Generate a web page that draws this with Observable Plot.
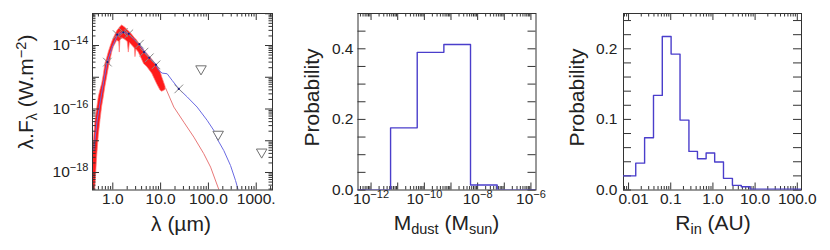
<!DOCTYPE html>
<html><head><meta charset="utf-8">
<script src="https://cdn.jsdelivr.net/npm/d3@7"></script>
<script src="https://cdn.jsdelivr.net/npm/@observablehq/plot@0.6"></script>
<style>
body{margin:0;background:#fff;}
#wrap{position:relative;width:830px;height:250px;overflow:hidden;background:#fff;}
#wrap svg{position:absolute;top:0;}
</style></head><body><div id="wrap"></div>
<script>
// ---------- Panel 1: SED ----------
const photLambda = [0.77, 1.235, 1.66, 2.16, 3.6, 4.5, 5.8, 8.0, 24];
const photFlux   = [3.0e-15, 2.2e-14, 2.6e-14, 2.33e-14, 1.1e-14, 6.2e-15, 4.1e-15, 2.46e-15, 4.3e-16];
const limLambda  = [70, 160, 1300];
const limFlux    = [1.84e-15, 1.6e-17, 4.4e-18];
const modelLambda = [0.40,0.47,0.553,0.649,0.762,0.97,1.234,1.57,2.0,2.54,3.5,4.46,5.67,7.82,9.18,10.8,13.7,17.5,24.1,36,58,94,130,152,210,290,369,433];
const modelFlux   = [4.9e-18,4.4e-17,1.9e-16,7.9e-16,3.0e-15,8.9e-15,2.07e-14,2.6e-14,2.45e-14,1.8e-14,1.1e-14,7.0e-15,4.3e-15,2.65e-15,1.63e-15,1.35e-15,1.29e-15,7.9e-16,4.3e-16,2.4e-16,1.15e-16,4.4e-17,2.1e-17,1.15e-17,4.9e-18,1.66e-18,5.6e-19,2.4e-19];
const starLambda = [12.7, 18.9, 30.6, 49.6, 80, 111, 173];
const starFlux   = [4.6e-16, 1.15e-16, 3.85e-17, 1.3e-17, 3.9e-18, 1.48e-18, 2.4e-19];
const specLambda = [0.388,0.435,0.47,0.51,0.553,0.60,0.649,0.70,0.762,0.826,0.895,0.97,1.05,1.234,1.36,1.40,1.44,1.57,1.84,2.05,2.16,2.28,2.54,2.9,2.98,3.1,3.5,4.12,4.5,5.24,6.66,8.48,9.95,10.8,12.7];
const specLow    = [1e-19,4e-19,3e-18,1.5e-17,4.4e-17,1.2e-16,2.4e-16,5e-16,1.0e-15,2.0e-15,3.4e-15,6e-15,8.9e-15,1.4e-14,1.3e-14,6e-15,1.4e-14,1.7e-14,1.5e-14,1.3e-14,6e-15,1.2e-14,1.0e-14,8e-15,4.3e-15,7.5e-15,6.0e-15,3.5e-15,2.6e-15,2.1e-15,1.3e-15,6e-16,3.8e-16,3.5e-16,4.0e-16];
const specHigh   = [4.9e-18,4.4e-17,1.0e-16,2.4e-16,4.0e-16,6.2e-16,1.2e-15,2.65e-15,4.0e-15,6.2e-15,9e-15,1.27e-14,1.7e-14,2.8e-14,3.4e-14,3.6e-14,3.8e-14,4.3e-14,3.6e-14,3.0e-14,2.8e-14,2.6e-14,2.2e-14,1.7e-14,1.6e-14,1.55e-14,1.2e-14,8.5e-15,7e-15,5.5e-15,3.6e-15,2.34e-15,1.5e-15,1.0e-15,5.0e-16];
const sedXLabels = [1, 10, 100, 1000];
const sedXText   = ["1.0", "10.0", "100.0", "1000."];
const sedYLabels = [1e-14, 1e-16, 1e-18];
const sedYText   = ["10^-14", "10^-16", "10^-18"];

// ---------- Panel 2: dust mass ----------
const mdustEdges = [1e-13, 5.4e-12, 5.4e-11, 5.4e-10, 5.4e-9, 5.4e-8, 1e-5];
const mdustProb  = [0, 0.176, 0.39, 0.412, 0.014, 0];
const mdustXLabels = [1e-12, 1e-10, 1e-8, 1e-6];
const mdustXText   = ["10^-12", "10^-10", "10^-8", "10^-6"];
const mdustYLabels = [0, 0.2, 0.4];

// ---------- Panel 3: inner radius ----------
const rinEdges = [0.005, 0.0148, 0.024, 0.039, 0.063, 0.102, 0.166, 0.27, 0.43, 0.69, 1.1, 1.78, 2.9, 4.7, 7.6, 200];
const rinProb  = [0.020, 0.038, 0.074, 0.134, 0.2175, 0.1925, 0.099, 0.0547, 0.0443, 0.0524, 0.0396, 0.0165, 0.0066, 0.0047, 0.001];
const rinXLabels = [0.01, 0.1, 1, 10, 100];
const rinXText   = ["0.01", "0.1", "1.0", "10.0", "100.0"];
const rinYLabels = [0, 0.1, 0.2];

// ---------- helpers ----------
const FONT = "'Liberation Sans', Arial, Helvetica, sans-serif";
const AX = "#333";
const HIST = "#4a3ecb";
const TICKFS = 15.5;

function logTicks(lo, hi) {
  const major = [], minor = [];
  for (let e = Math.floor(Math.log10(lo)) - 1; e <= Math.ceil(Math.log10(hi)) + 1; e++) {
    for (let m = 1; m <= 9; m++) {
      const v = m * Math.pow(10, e);
      if (v < lo * 0.9999 || v > hi * 1.0001) continue;
      (m === 1 ? major : minor).push(v);
    }
  }
  return {major, minor};
}
function linTicks(lo, hi, step) {
  const t = [];
  for (let v = lo; v <= hi + 1e-9; v += step) t.push(+v.toFixed(6));
  return t;
}
function xTickMarks(vals, len, fh) {
  return [
    Plot.ruleX(vals, {insetTop: fh - len, stroke: AX, strokeWidth: 1}),
    Plot.ruleX(vals, {insetBottom: fh - len, stroke: AX, strokeWidth: 1})
  ];
}
function yTickMarks(vals, len, fw) {
  return [
    Plot.ruleY(vals, {insetRight: fw - len, stroke: AX, strokeWidth: 1}),
    Plot.ruleY(vals, {insetLeft: fw - len, stroke: AX, strokeWidth: 1})
  ];
}
function supify(svg, axis) {
  d3.select(svg).selectAll(`g[aria-label="${axis}-axis tick label"] text`).each(function () {
    const t = d3.select(this);
    const s = t.text();
    const m = s.match(/^(10)\^(.+)$/);
    if (!m) return;
    t.text(null);
    t.append("tspan").text(m[1]);
    t.append("tspan").attr("dy", "-6").attr("font-size", "11px").text(m[2].replace("-", "\u2212"));
  });
}
function addTitle(svg, x, y, parts, rotate) {
  const t = d3.select(svg).append("text")
    .attr("transform", `translate(${x},${y})` + (rotate ? " rotate(-90)" : ""))
    .attr("text-anchor", "middle")
    .attr("font-family", FONT)
    .attr("font-size", "21px")
    .attr("fill", "#222");
  let shift = 0;
  for (const p of parts) {
    const target = p.sub ? 4 : p.sup ? -7.5 : 0;
    const ts = t.append("tspan").text(p.t).attr("dy", target - shift);
    if (p.sub || p.sup) ts.attr("font-size", "14.5px");
    shift = target;
  }
}

const wrap = document.getElementById("wrap");
const H = 250, MT = 13, MB = 60.5, FH = H - MT - MB;
const baseStyle = {fontFamily: FONT, fontSize: TICKFS + "px", background: "transparent", color: "#222", overflow: "visible"};

// ---------- Panel 1 ----------
{
  const W = 280, ML = 92, MR = 8, FW = W - ML - MR;
  const xDom = [0.376, 2190], yDom = [2.81e-19, 1.019e-13];
  const xt = logTicks(...xDom), yt = logTicks(...yDom);
  const spec = specLambda.map((l, i) => ({l, lo: specLow[i], hi: specHigh[i]}));
  const model = modelLambda.map((l, i) => ({l, f: modelFlux[i]}));
  const star = starLambda.map((l, i) => ({l, f: starFlux[i]}));
  const phot = photLambda.map((l, i) => ({l, f: photFlux[i]}));
  const lim = limLambda.map((l, i) => ({l, f: limFlux[i]}));
  const svg = Plot.plot({
    width: W, height: H, marginLeft: ML, marginRight: MR, marginTop: MT, marginBottom: MB,
    style: baseStyle,
    x: {type: "log", domain: xDom},
    y: {type: "log", domain: yDom},
    marks: [
      Plot.areaY(spec, {x: "l", y1: "lo", y2: "hi", fill: "#ff1a1a", stroke: "#ff8080", strokeWidth: 0.7, clip: true}),
      Plot.line(star, {x: "l", y: "f", stroke: "#e87878", strokeWidth: 1, clip: true}),
      Plot.line(model, {x: "l", y: "f", stroke: "#6a6ae2", strokeWidth: 1, clip: true}),
      Plot.dot(phot, {x: "l", y: "f", symbol: "times", r: 4, stroke: "#8a8a8a", strokeWidth: 1}),
      Plot.dot(phot, {x: "l", y: "f", r: 1.1, fill: "#1c1c7a"}),
      Plot.dot(lim, {x: "l", y: "f", symbol: "triangle", rotate: 180, r: 3.9, stroke: "#707070", fill: "white", strokeWidth: 1}),
      ...xTickMarks(xt.major, 7, FH), ...xTickMarks(xt.minor, 3.5, FH),
      ...yTickMarks(yt.major, 7, FW), ...yTickMarks(yt.minor, 3.5, FW),
      Plot.frame({stroke: AX, strokeWidth: 1}),
      Plot.axisX({ticks: sedXLabels, tickSize: 0, tickPadding: 3, label: null, fontSize: TICKFS,
        tickFormat: d => sedXText[sedXLabels.indexOf(d)]}),
      Plot.axisY({ticks: sedYLabels, tickSize: 0, tickPadding: 4, label: null, fontSize: TICKFS,
        tickFormat: d => sedYText[sedYLabels.indexOf(d)]})
    ]
  });
  svg.style.left = "0px";
  wrap.appendChild(svg);
  supify(svg, "y");
  addTitle(svg, 181, 231, [{t: "\u03bb (\u00b5m)"}], false);
  addTitle(svg, 33, 92, [{t: "\u03bb.F"}, {t: "\u03bb", sub: true}, {t: " (W.m"}, {t: "\u22122", sup: true}, {t: ")"}], true);
}

// ---------- Panel 2 ----------
{
  const LEFT = 280, W = 270, ML = 77.5, MR = 14.5, FW = W - ML - MR;
  const xDom = [Math.pow(10, -12.49), Math.pow(10, -5.81)], yDom = [0, 0.5];
  const xt = logTicks(...xDom);
  const hist = mdustProb.map((p, i) => ({x: mdustEdges[i], p}));
  hist.push({x: mdustEdges[mdustEdges.length - 1], p: mdustProb[mdustProb.length - 1]});
  const svg = Plot.plot({
    width: W, height: H, marginLeft: ML, marginRight: MR, marginTop: MT, marginBottom: MB,
    style: baseStyle,
    x: {type: "log", domain: xDom},
    y: {domain: yDom},
    marks: [
      ...xTickMarks(xt.major, 7, FH), ...xTickMarks(xt.minor, 3.5, FH),
      ...yTickMarks(linTicks(0, 0.5, 0.05), 8, FW),
      Plot.frame({stroke: AX, strokeWidth: 1}),
      Plot.line(hist, {x: "x", y: "p", curve: "step-after", stroke: HIST, strokeWidth: 1.4, clip: true}),
      Plot.axisX({ticks: mdustXLabels, tickSize: 0, tickPadding: 3, label: null, fontSize: TICKFS,
        tickFormat: d => mdustXText[mdustXLabels.indexOf(d)]}),
      Plot.axisY({ticks: mdustYLabels, tickSize: 0, tickPadding: 4.5, label: null, fontSize: TICKFS,
        tickFormat: d => d.toFixed(1)})
    ]
  });
  svg.style.left = LEFT + "px";
  wrap.appendChild(svg);
  supify(svg, "x");
  addTitle(svg, 166.5, 230, [{t: "M"}, {t: "dust", sub: true}, {t: " (M"}, {t: "sun", sub: true}, {t: ")"}], false);
  addTitle(svg, 39, 97.5, [{t: "Probability"}], true);
}

// ---------- Panel 3 ----------
{
  const LEFT = 550, W = 280, ML = 73, MR = 29, FW = W - ML - MR;
  const xDom = [Math.pow(10, -2.12), Math.pow(10, 2.1)], yDom = [0, 0.25];
  const xt = logTicks(...xDom);
  const hist = rinProb.map((p, i) => ({x: rinEdges[i], p}));
  hist.push({x: rinEdges[rinEdges.length - 1], p: rinProb[rinProb.length - 1]});
  const svg = Plot.plot({
    width: W, height: H, marginLeft: ML, marginRight: MR, marginTop: MT, marginBottom: MB,
    style: baseStyle,
    x: {type: "log", domain: xDom},
    y: {domain: yDom},
    marks: [
      ...xTickMarks(xt.major, 7, FH), ...xTickMarks(xt.minor, 3.5, FH),
      ...yTickMarks(linTicks(0, 0.24, 0.02), 8, FW),
      Plot.frame({stroke: AX, strokeWidth: 1}),
      Plot.line(hist, {x: "x", y: "p", curve: "step-after", stroke: HIST, strokeWidth: 1.4, clip: true}),
      Plot.axisX({ticks: rinXLabels, tickSize: 0, tickPadding: 3, label: null, fontSize: TICKFS,
        tickFormat: d => rinXText[rinXLabels.indexOf(d)]}),
      Plot.axisY({ticks: rinYLabels, tickSize: 0, tickPadding: 6, label: null, fontSize: TICKFS,
        tickFormat: d => d.toFixed(1)})
    ]
  });
  svg.style.left = LEFT + "px";
  wrap.appendChild(svg);
  d3.select(svg).selectAll('g[aria-label="x-axis tick label"] text')
    .filter(function () { return d3.select(this).text() === "0.01"; })
    .attr("dx", 5);
  addTitle(svg, 163, 230, [{t: "R"}, {t: "in", sub: true}, {t: " (AU)"}], false);
  addTitle(svg, 34, 97.5, [{t: "Probability"}], true);
}
</script></body></html>
